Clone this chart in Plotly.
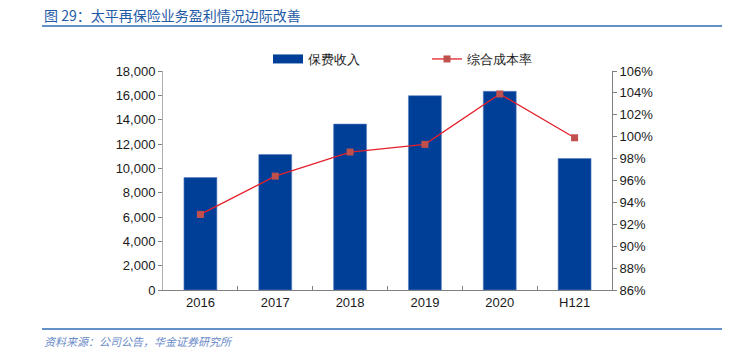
import plotly.graph_objects as go

categories = ["2016", "2017", "2018", "2019", "2020", "H121"]
premium = [9240, 11140, 13640, 15970, 16330, 10810]
combined_ratio = [92.9, 96.4, 98.6, 99.3, 103.9, 99.9]
left_ticks = list(range(0, 18001, 2000))
right_ticks = list(range(86, 107, 2))

W, H = 738, 352
L, R, T, B = 163, 612, 71, 290

def px(x):
    return (x - L) / (R - L)

def py(y):
    return (B - y) / (B - T)

FONT = "Liberation Sans, Arial, sans-serif"
BLUE = "#003f98"

fig = go.Figure()
fig.add_trace(go.Bar(
    x=categories, y=premium, name="保费收入", showlegend=False,
    marker=dict(color=BLUE, line=dict(color="#5b7fc0", width=0.6)),
    width=0.44, yaxis="y",
))
# legend entry for the bars, drawn as a wide rectangle like the reference
fig.add_trace(go.Scatter(
    x=[None], y=[None], name="保费收入", mode="lines",
    line=dict(color=BLUE, width=9), yaxis="y",
))
fig.add_trace(go.Scatter(
    x=categories, y=combined_ratio, name="综合成本率", mode="lines+markers",
    line=dict(color="#e3202b", width=1.3),
    marker=dict(symbol="square", size=7, color="#c0504d"),
    yaxis="y2",
))

fig.update_layout(
    width=W, height=H,
    margin=dict(l=L, r=W - R, t=T, b=H - B),
    plot_bgcolor="white", paper_bgcolor="white",
    font=dict(family=FONT, size=13, color="#1a1a1a"),
    bargap=0.56,
    xaxis=dict(
        showline=True, linecolor="#808080", linewidth=1,
        ticks="inside", tickson="boundaries", ticklen=4, tickcolor="#808080",
        tickfont=dict(size=13), showgrid=False,
    ),
    yaxis=dict(
        range=[0, 18000], tickvals=left_ticks, tickformat=",d",
        showline=True, linecolor="#b0b0b0", linewidth=1,
        ticks="outside", ticklen=4, tickcolor="#808080",
        showgrid=False, zeroline=False, tickfont=dict(size=13),
    ),
    yaxis2=dict(
        range=[86, 106], tickvals=right_ticks,
        ticktext=[f"{v}%" for v in right_ticks],
        overlaying="y", side="right",
        showline=True, linecolor="#808080", linewidth=1,
        ticks="outside", ticklen=4, tickcolor="#808080",
        showgrid=False, zeroline=False, tickfont=dict(size=13),
    ),
    legend=dict(
        orientation="h", x=px(268), y=py(59), xanchor="left", yanchor="middle",
        font=dict(size=13), entrywidth=114, entrywidthmode="pixels",
        bgcolor="rgba(0,0,0,0)", itemwidth=30,
    ),
    showlegend=True,
)

fig.add_annotation(
    text="图 29：太平再保险业务盈利情况边际改善",
    xref="paper", yref="paper", x=px(42), y=py(15),
    xanchor="left", yanchor="middle", showarrow=False,
    font=dict(family="Noto Sans CJK SC, " + FONT, size=14, color="#1f5aa6"),
)
fig.add_annotation(
    text="<i>资料来源：公司公告，华金证券研究所</i>",
    xref="paper", yref="paper", x=px(42), y=py(341),
    xanchor="left", yanchor="middle", showarrow=False,
    font=dict(family="Noto Sans CJK SC, " + FONT, size=11, color="#6a8ac8"),
)
fig.add_shape(type="line", xref="paper", yref="paper",
              x0=px(42), x1=px(722), y0=py(26), y1=py(26),
              line=dict(color="#2e6db4", width=1.5))
fig.add_shape(type="line", xref="paper", yref="paper",
              x0=px(42), x1=px(722), y0=py(329), y1=py(329),
              line=dict(color="#2e6db4", width=1.5))

fig.write_html("out.html")
